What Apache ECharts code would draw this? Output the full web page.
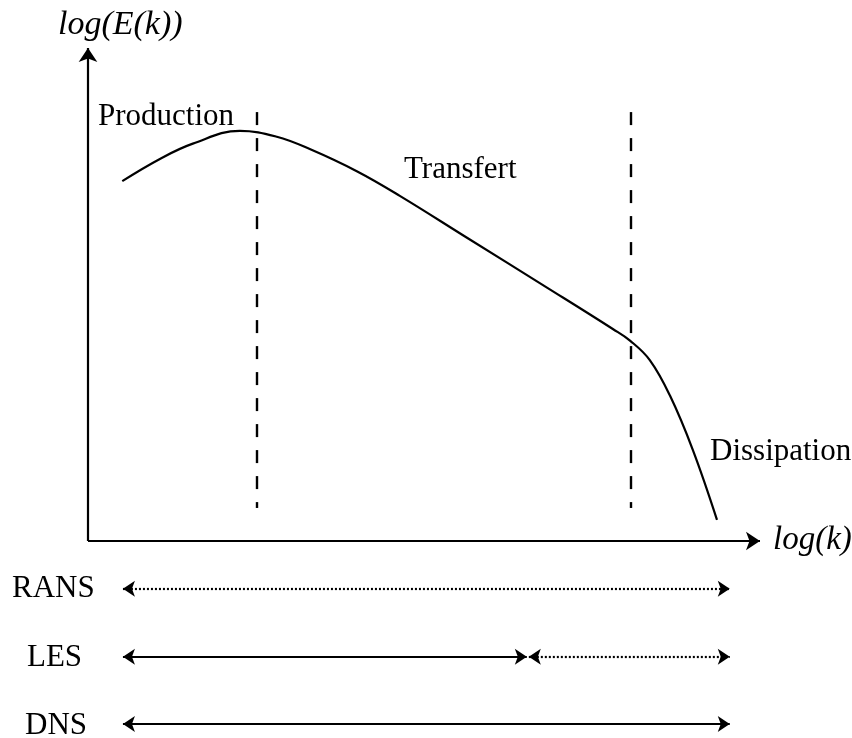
<!DOCTYPE html>
<html>
<head>
<meta charset="utf-8">
<script src="https://cdn.jsdelivr.net/npm/echarts@6/dist/echarts.min.js"></script>
<style>
  html, body { margin: 0; padding: 0; background: #fff; }
  #chart { width: 852px; height: 738px; }
</style>
</head>
<body>
<div id="chart"></div>
<script>
// energy spectrum (arbitrary log units)
const logK = [0.51, 1.07, 1.56, 2.26, 2.81, 3.30, 4.00, 4.64, 5.64, 6.83, 7.81, 8.07, 8.36, 8.66, 9.00, 9.36];
const logE = [7.30, 7.75, 8.06, 8.32, 8.20, 7.95, 7.50, 7.00, 6.15, 5.14, 4.30, 4.06, 3.67, 2.95, 1.85, 0.43];

// vertical separators between production / transfer / dissipation
const cutK = [2.51, 8.07];
const cutRange = [0.67, 8.70];

// resolved ranges of each method
const methods = ['RANS', 'LES', 'DNS'];
const methodLevel = [-0.97, -2.35, -3.71];
const rangeK = [0.52, 9.55];
const lesCutK = [6.53, 6.56];

// axis arrows
const axisEnd = [10, 10];

const chart = echarts.init(document.getElementById('chart'));

const serif = '"Liberation Serif", "DejaVu Serif", serif';
const black = '#000';

function seg(x1, y1, x2, y2) {
    return { coords: [[x1, y1], [x2, y2]] };
}

const solidSegs = [
    seg(rangeK[0], methodLevel[1], lesCutK[0], methodLevel[1]),
    seg(rangeK[0], methodLevel[2], rangeK[1], methodLevel[2])
];
const dottedSegs = [
    seg(rangeK[0], methodLevel[0], rangeK[1], methodLevel[0]),
    seg(lesCutK[1], methodLevel[1], rangeK[1], methodLevel[1])
];

function text(str, x, y, size, italic) {
    return {
        type: 'text',
        x: x,
        y: y,
        style: {
            text: str,
            fill: black,
            font: (italic ? 'italic ' : '') + size + 'px ' + serif,
            textAlign: 'left',
            textVerticalAlign: 'middle'
        }
    };
}

const option = {
    animation: false,
    backgroundColor: '#fff',
    grid: { left: 0, right: 0, top: 0, bottom: 0 },
    xAxis: {
        type: 'value',
        min: -88 / 67.2,
        max: (852 - 88) / 67.2,
        show: false
    },
    yAxis: {
        type: 'value',
        min: -(738 - 541) / 49.3,
        max: 541 / 49.3,
        show: false
    },
    series: [
        {
            type: 'line',
            data: logK.map((k, i) => [k, logE[i]]),
            smooth: 0.4,
            showSymbol: false,
            lineStyle: { color: black, width: 2.2 }
        },
        {
            type: 'lines',
            coordinateSystem: 'cartesian2d',
            data: cutK.map(k => seg(k, cutRange[1], k, cutRange[0])),
            lineStyle: { color: black, width: 2.4, type: [13, 13], opacity: 1 }
        },
        {
            // axes
            type: 'lines',
            coordinateSystem: 'cartesian2d',
            data: [seg(0, 0, axisEnd[0], 0), seg(0, 0, 0, axisEnd[1])],
            symbol: ['none', 'arrow'],
            symbolSize: 14,
            lineStyle: { color: black, width: 2.2, opacity: 1 }
        },
        {
            type: 'lines',
            coordinateSystem: 'cartesian2d',
            data: solidSegs,
            symbol: ['arrow', 'arrow'],
            symbolSize: 12,
            lineStyle: { color: black, width: 2.2, opacity: 1 }
        },
        {
            type: 'lines',
            coordinateSystem: 'cartesian2d',
            data: dottedSegs,
            symbol: ['arrow', 'arrow'],
            symbolSize: 12,
            lineStyle: { color: black, width: 2.2, type: [2, 2], opacity: 1 }
        }
    ],
    graphic: [
        text('log(E(k))', 58, 25, 34, true),
        text('log(k)', 773, 540, 33, true),
        text('Production', 98, 117, 31),
        text('Transfert', 404, 170, 31),
        text('Dissipation', 710, 452, 31),
        text(methods[0], 12, 589, 31),
        text(methods[1], 27, 658, 31),
        text(methods[2], 25, 726, 31)
    ]
};

chart.setOption(option);
</script>
</body>
</html>
